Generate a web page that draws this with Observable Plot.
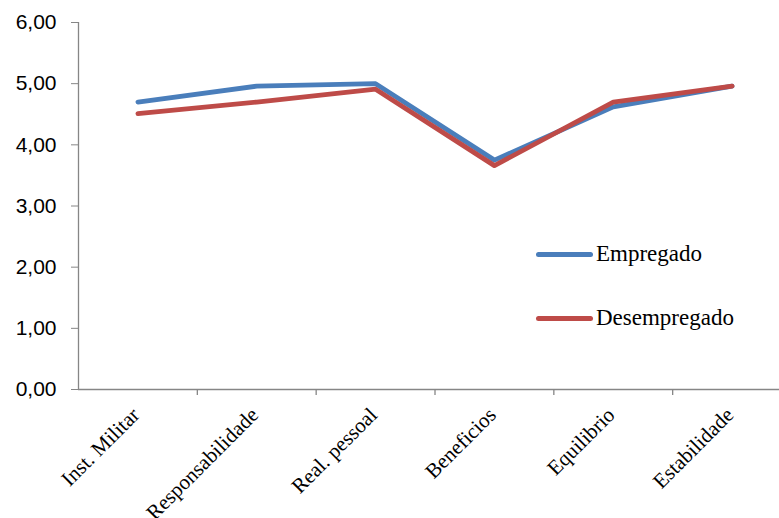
<!DOCTYPE html>
<html>
<head>
<meta charset="utf-8">
<script src="https://cdn.jsdelivr.net/npm/d3@7"></script>
<script src="https://cdn.jsdelivr.net/npm/@observablehq/plot@0.6"></script>
<style>
  html, body { margin: 0; padding: 0; background: #fff; }
  #wrap { position: relative; width: 779px; height: 518px; overflow: hidden; }
  #legend { position: absolute; left: 536px; top: 236px; font-family: "Liberation Serif", "Times New Roman", serif; font-size: 23px; color: #000; }
  .item { display: flex; align-items: center; height: 36px; margin-bottom: 28px; }
  .swatch { width: 57px; height: 5px; border-radius: 3px; margin-right: 3px; }
</style>
</head>
<body>
<div id="wrap"><div id="legend"></div></div>
<script>
const categories = ["Inst. Militar", "Responsabilidade", "Real. pessoal", "Beneficios", "Equilibrio", "Estabilidade"];
const empregado = [4.70, 4.96, 5.00, 3.75, 4.62, 4.96];
const desempregado = [4.51, 4.70, 4.91, 3.66, 4.70, 4.96];
const seriesNames = ["Empregado", "Desempregado"];
const seriesColors = ["#4A7EBB", "#BE4B48"];
const yTicks = [0, 1, 2, 3, 4, 5, 6];

const bounds = categories.map((c, i) => i + 0.5);
const axisGray = "#868686";

const chart = Plot.plot({
  width: 779,
  height: 518,
  marginLeft: 78,
  marginRight: 0,
  marginTop: 22,
  marginBottom: 129,
  x: { type: "linear", axis: null, domain: [-0.5, categories.length - 0.5], range: [78, 791] },
  y: { domain: [0, 6] },
  style: { background: "transparent", overflow: "visible" },
  marks: [
    Plot.ruleY([0], { stroke: axisGray, strokeWidth: 1.3 }),
    Plot.ruleX([-0.5], { stroke: axisGray, strokeWidth: 1.3 }),
    Plot.ruleX(bounds, { y1: 0, y2: 0, insetBottom: -6, stroke: axisGray, strokeWidth: 1.3 }),
    Plot.axisY({
      ticks: yTicks, tickSize: 7, tickPadding: 15,
      tickFormat: d => d.toFixed(2).replace(".", ","),
      stroke: axisGray, fill: "#000", fontSize: 21,
      fontFamily: "Liberation Sans, Arial, sans-serif", label: null
    }),
    Plot.text(categories, {
      x: (d, i) => i, y: 0, text: d => d, rotate: -45, textAnchor: "end",
      dx: -2, dy: 22, fontSize: 21, fill: "#000",
      fontFamily: "Liberation Serif, Times New Roman, serif"
    }),
    Plot.lineY(empregado, { x: (d, i) => i, y: d => d, stroke: seriesColors[0], strokeWidth: 4.8 }),
    Plot.lineY(desempregado, { x: (d, i) => i, y: d => d, stroke: seriesColors[1], strokeWidth: 4.8 })
  ]
});

const wrap = document.getElementById("wrap");
wrap.insertBefore(chart, wrap.firstChild);

const legend = document.getElementById("legend");
seriesNames.forEach((name, i) => {
  const item = document.createElement("div");
  item.className = "item";
  const sw = document.createElement("div");
  sw.className = "swatch";
  sw.style.background = seriesColors[i];
  const label = document.createElement("span");
  label.textContent = name;
  item.appendChild(sw);
  item.appendChild(label);
  legend.appendChild(item);
});
</script>
</body>
</html>
